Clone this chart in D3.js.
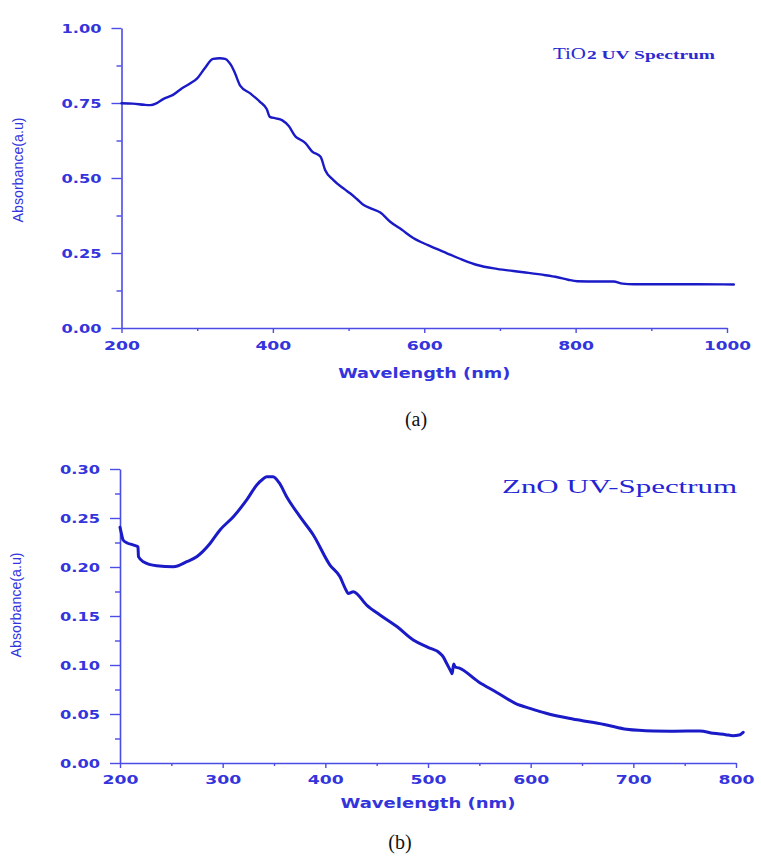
<!DOCTYPE html>
<html>
<head>
<meta charset="utf-8">
<script src="https://cdn.jsdelivr.net/npm/d3@7/dist/d3.min.js"></script>
<style>
  html, body { margin: 0; padding: 0; background: #ffffff; }
  svg { display: block; }
</style>
</head>
<body>
<svg id="chart" width="761" height="857"></svg>
<script>
// ---------- Data ----------
const tio2Wavelength = [200, 215, 230, 238, 246, 255, 268, 280, 290, 300, 310, 321, 330, 337, 342, 346, 350, 357, 370, 383, 392, 396, 404, 412, 421, 430, 437, 443, 452, 463, 469, 480, 495, 502, 511, 520, 530, 542, 555, 570, 586, 605, 630, 650, 670, 696, 731, 760, 776, 790, 802, 830, 850, 862, 877, 920, 960, 1009];
const tio2Absorbance = [0.749, 0.748, 0.744, 0.743, 0.749, 0.763, 0.777, 0.799, 0.814, 0.832, 0.866, 0.897, 0.899, 0.897, 0.886, 0.871, 0.849, 0.807, 0.782, 0.754, 0.729, 0.704, 0.699, 0.693, 0.673, 0.638, 0.627, 0.616, 0.588, 0.571, 0.527, 0.493, 0.462, 0.449, 0.43, 0.41, 0.398, 0.385, 0.354, 0.328, 0.299, 0.276, 0.249, 0.228, 0.21, 0.197, 0.186, 0.176, 0.169, 0.161, 0.156, 0.155, 0.155, 0.148, 0.146, 0.146, 0.146, 0.145];

const znoWavelength = [200, 201, 203, 206.5, 212, 216, 217.5, 218, 222.7, 235.7, 252, 265, 274.7, 287.7, 297.4, 310.4, 323.4, 333.2, 339, 343, 349, 355, 362.3, 375.3, 388.3, 404.5, 414.3, 419, 422.4, 427.2, 440.2, 453.2, 470, 485.7, 500, 511.7, 515, 518, 522, 523.5, 525, 526.5, 530, 549, 567, 585, 600, 615, 641, 660, 674, 693.4, 719.4, 740, 764.8, 777.8, 790, 797, 803, 807];
const znoAbsorbance = [0.2405, 0.236, 0.2276, 0.2248, 0.2228, 0.2214, 0.2205, 0.2105, 0.2054, 0.2013, 0.2003, 0.2054, 0.2105, 0.224, 0.2378, 0.2513, 0.2684, 0.2837, 0.2895, 0.2922, 0.292, 0.286, 0.2718, 0.2513, 0.2327, 0.202, 0.19, 0.179, 0.173, 0.1748, 0.1612, 0.151, 0.139, 0.1255, 0.118, 0.1119, 0.108, 0.102, 0.094, 0.091, 0.101, 0.098, 0.097, 0.083, 0.072, 0.0609, 0.0555, 0.0507, 0.0449, 0.0415, 0.0388, 0.0344, 0.0327, 0.0325, 0.0327, 0.0303, 0.0289, 0.0279, 0.0285, 0.0313];

const tio2XTicks = [200, 400, 600, 800, 1000];
const tio2XMinor = [300, 500, 700, 900];
const tio2YTicks = [0.00, 0.25, 0.50, 0.75, 1.00];
const tio2YMinor = [0.125, 0.375, 0.625, 0.875];

const znoXTicks = [200, 300, 400, 500, 600, 700, 800];
const znoXMinor = [250, 350, 450, 550, 650, 750];
const znoYTicks = [0.00, 0.05, 0.10, 0.15, 0.20, 0.25, 0.30];
const znoYMinor = [0.025, 0.075, 0.125, 0.175, 0.225, 0.275];

const xTitle = "Wavelength (nm)";
const yTitle = "Absorbance(a.u)";

// ---------- Drawing ----------
const svg = d3.select("#chart");
const axisColor = "#4b4be6";
const labelColor = "#3434dc";
const lineColor = "#1a1ac6";
const tickFont = "'DejaVu Sans', Verdana, sans-serif";

function panel(opt) {
  const x = d3.scaleLinear().domain(opt.xDomain).range([opt.left, opt.right]);
  const y = d3.scaleLinear().domain(opt.yDomain).range([opt.bottom, opt.top]);
  const g = svg.append("g");

  const xa = g.append("g").attr("transform", `translate(0,${opt.bottom})`)
    .call(d3.axisBottom(x).tickValues(opt.xTicks).tickSize(5).tickSizeOuter(0).tickPadding(7).tickFormat(d3.format("d")));
  g.append("g").attr("transform", `translate(0,${opt.bottom})`)
    .call(d3.axisBottom(x).tickValues(opt.xMinor).tickSize(3).tickSizeOuter(0).tickFormat(""))
    .select(".domain").remove();

  const ya = g.append("g").attr("transform", `translate(${opt.left},0)`)
    .call(d3.axisLeft(y).tickValues(opt.yTicks).tickSize(10).tickSizeOuter(0).tickPadding(10).tickFormat(d3.format(".2f")));
  g.append("g").attr("transform", `translate(${opt.left},0)`)
    .call(d3.axisLeft(y).tickValues(opt.yMinor).tickSize(5).tickSizeOuter(0).tickFormat(""))
    .select(".domain").remove();

  g.selectAll(".domain").attr("stroke", axisColor).attr("stroke-width", 1.6);
  g.selectAll(".tick line").attr("stroke", axisColor).attr("stroke-width", 1.4);
  g.selectAll(".tick text")
    .attr("fill", labelColor)
    .style("font-family", tickFont)
    .style("font-weight", "bold")
    .style("font-size", "12.5px")
    .attr("lengthAdjust", "spacingAndGlyphs");
  xa.selectAll(".tick text")
    .attr("y", opt.xLabelDy)
    .attr("textLength", d => String(d).length === 4 ? 47 : 36);
  ya.selectAll(".tick text")
    .attr("textLength", 40);

  const data = opt.xs.map((d, i) => [d, opt.ys[i]]);
  g.append("path")
    .datum(data)
    .attr("fill", "none")
    .attr("stroke", lineColor)
    .attr("stroke-width", opt.lineWidth)
    .attr("stroke-linejoin", "round")
    .attr("stroke-linecap", "round")
    .attr("d", d3.line().x(d => x(d[0])).y(d => y(d[1])).curve(d3.curveMonotoneX));

  g.append("text")
    .attr("x", (opt.left + opt.right) / 2)
    .attr("y", opt.xTitleY)
    .attr("text-anchor", "middle")
    .attr("fill", labelColor)
    .attr("textLength", opt.xTitleLen)
    .attr("lengthAdjust", "spacingAndGlyphs")
    .style("font-family", tickFont)
    .style("font-weight", "bold")
    .style("font-size", "13.5px")
    .text(xTitle);

  g.append("text")
    .attr("transform", `translate(${opt.yTitleX},${opt.yTitleY}) rotate(-90)`)
    .attr("text-anchor", "middle")
    .attr("fill", labelColor)
    .attr("textLength", 105)
    .attr("lengthAdjust", "spacingAndGlyphs")
    .style("font-family", "'Liberation Sans Narrow', 'Liberation Sans', Arial, sans-serif")
    .style("font-size", "14px")
    .text(yTitle);
}

panel({
  xDomain: [200, 1000], yDomain: [0, 1],
  left: 121.5, right: 727, top: 28, bottom: 328,
  xTicks: tio2XTicks, xMinor: tio2XMinor, yTicks: tio2YTicks, yMinor: tio2YMinor,
  xs: tio2Wavelength, ys: tio2Absorbance, lineWidth: 2.4,
  xLabelDy: 13, xTitleY: 378, xTitleLen: 172, yTitleX: 23, yTitleY: 170
});

panel({
  xDomain: [200, 800], yDomain: [0, 0.30],
  left: 120, right: 736, top: 469, bottom: 763,
  xTicks: znoXTicks, xMinor: znoXMinor, yTicks: znoYTicks, yMinor: znoYMinor,
  xs: znoWavelength, ys: znoAbsorbance, lineWidth: 3,
  xLabelDy: 12, xTitleY: 808, xTitleLen: 175, yTitleX: 21, yTitleY: 605
});

svg.append("text").attr("x", 553).attr("y", 59)
  .attr("fill", "#2a2ad0")
  .attr("textLength", 33).attr("lengthAdjust", "spacingAndGlyphs")
  .style("font-family", "'Liberation Serif', 'Times New Roman', serif")
  .style("font-size", "16px")
  .text("TiO");
svg.append("text").attr("x", 587).attr("y", 59)
  .attr("fill", "#2a2ad0")
  .attr("textLength", 128).attr("lengthAdjust", "spacingAndGlyphs")
  .style("font-family", "'Liberation Serif', 'Times New Roman', serif")
  .style("font-weight", "bold")
  .style("font-size", "12px")
  .text("2 UV Spectrum");

svg.append("text").attr("x", 502).attr("y", 493)
  .attr("fill", "#2424d4")
  .attr("textLength", 235).attr("lengthAdjust", "spacingAndGlyphs")
  .style("font-family", "'Liberation Serif', 'Times New Roman', serif")
  .style("font-size", "19px")
  .text("ZnO UV-Spectrum");

svg.append("text").attr("x", 416).attr("y", 426)
  .attr("text-anchor", "middle").attr("fill", "#111")
  .style("font-family", "'Liberation Serif', 'Times New Roman', serif")
  .style("font-size", "20px")
  .text("(a)");
svg.append("text").attr("x", 400).attr("y", 849)
  .attr("text-anchor", "middle").attr("fill", "#111")
  .style("font-family", "'Liberation Serif', 'Times New Roman', serif")
  .style("font-size", "20px")
  .text("(b)");
</script>
</body>
</html>
